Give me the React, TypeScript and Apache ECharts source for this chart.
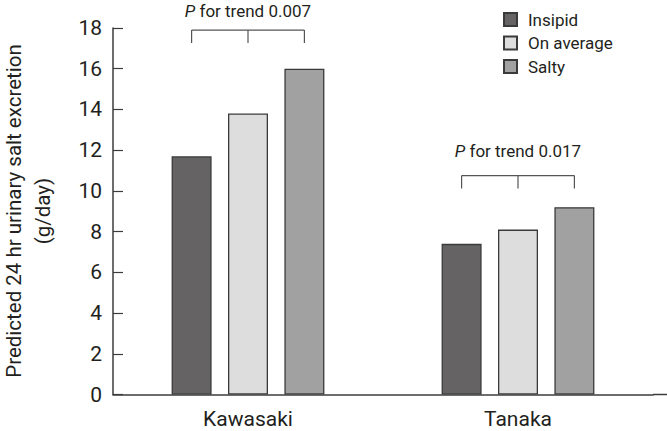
import React, { useEffect, useRef } from "react";
import * as echarts from "echarts";

const categories = ["Kawasaki", "Tanaka"];
const seriesNames = ["Insipid", "On average", "Salty"];
const insipid = [11.7, 7.4];
const onAverage = [13.8, 8.1];
const salty = [16.0, 9.2];
const yTicks = { min: 0, max: 18, interval: 2 };
const yTitleLines = ["Predicted 24 hr urinary salt excretion", "(g/day)"];
const trendLabels = ["0.007", "0.017"];
const trendLineLevels = [17.9, 10.75];
const trendTextLevels = [18.85, 11.97];

const colors = ["#656363", "#dcdddc", "#a0a1a0"];
const FONT = "Roboto, 'Liberation Sans', sans-serif";
const TEXT = "#231f20";
const BAR_WIDTH = 40;
const BAR_GAP = 0.41;

export default function App() {
  const ref = useRef<HTMLDivElement>(null);
  useEffect(() => {
    const chart = echarts.init(ref.current!, undefined, { renderer: "svg" });
    const values = [insipid, onAverage, salty];
    const offset = BAR_WIDTH * (1 + BAR_GAP);
    const bracketData = categories.map((_, i) => [i, trendLineLevels[i], trendTextLevels[i], i]);
    chart.setOption({
      animation: false,
      backgroundColor: "#ffffff",
      textStyle: { fontFamily: FONT, color: TEXT },
      grid: {
        left: 113,
        top: 28,
        width: 540,
        bottom: 36.5,
        containLabel: false,
        outerBoundsMode: "none",
      },
      legend: {
        data: seriesNames,
        orient: "vertical",
        left: 498,
        top: 6,
        icon: "rect",
        itemWidth: 13,
        itemHeight: 13,
        itemGap: 6.5,
        textStyle: { fontSize: 17, color: TEXT, fontFamily: FONT, padding: [0, 0, 0, 6] },
      },
      xAxis: {
        type: "category",
        data: categories,
        axisLine: { lineStyle: { color: "#3c3c3c", width: 1.5 } },
        axisTick: { show: false },
        axisLabel: { fontSize: 21, color: TEXT, margin: 14, fontFamily: FONT },
      },
      yAxis: {
        type: "value",
        min: yTicks.min,
        max: yTicks.max,
        interval: yTicks.interval,
        axisLine: { show: true, lineStyle: { color: "#3c3c3c", width: 1.5 } },
        axisTick: { show: true, inside: true, length: 10, lineStyle: { color: "#3c3c3c", width: 1.2 } },
        axisLabel: { fontSize: 21, color: TEXT, margin: 11, fontFamily: FONT },
        splitLine: { show: false },
      },
      series: [
        ...seriesNames.map((name, k) => ({
          name,
          type: "bar",
          data: values[k],
          barWidth: BAR_WIDTH,
          barGap: `${BAR_GAP * 100}%`,
          itemStyle: { color: colors[k], borderColor: "#3a3a3a", borderWidth: 1.3 },
        })),
        {
          type: "custom",
          name: "trend",
          clip: false,
          silent: true,
          data: bracketData,
          renderItem: (params: any, api: any) => {
            const cat = api.value(0);
            const lineY = api.coord([cat, api.value(1)]);
            const textY = api.coord([cat, api.value(2)]);
            const idx = api.value(3);
            const cx = lineY[0];
            const y = lineY[1];
            const drop = 13;
            const ls = { stroke: "#555555", lineWidth: 1.2 };
            return {
              type: "group",
              children: [
                { type: "line", shape: { x1: cx - offset, y1: y, x2: cx + offset, y2: y }, style: ls },
                { type: "line", shape: { x1: cx - offset, y1: y, x2: cx - offset, y2: y + drop }, style: ls },
                { type: "line", shape: { x1: cx, y1: y, x2: cx, y2: y + drop }, style: ls },
                { type: "line", shape: { x1: cx + offset, y1: y, x2: cx + offset, y2: y + drop }, style: ls },
                {
                  type: "text",
                  style: {
                    text: `{i|P} for trend ${trendLabels[idx]}`,
                    x: cx,
                    y: textY[1],
                    align: "center",
                    verticalAlign: "middle",
                    fontSize: 17,
                    fontFamily: FONT,
                    fill: TEXT,
                    rich: {
                      i: { fontStyle: "italic", fontSize: 17, fontFamily: FONT, fill: TEXT, color: TEXT },
                    },
                  },
                },
              ],
            };
          },
        },
      ],
      graphic: [
        {
          type: "line",
          shape: { x1: 653, y1: 394.5, x2: 667, y2: 394.5 },
          style: { stroke: "#3c3c3c", lineWidth: 1.5 },
        },
        ...yTitleLines.map((t, i) => ({
          type: "text",
          x: 14 + i * 29,
          y: 211,
          rotation: Math.PI / 2,
          style: {
            text: t,
            align: "center",
            verticalAlign: "middle",
            fontSize: 20.5,
            fontFamily: FONT,
            fill: TEXT,
          },
        })),
      ],
    });
    return () => chart.dispose();
  }, []);
  return (
    <div
      ref={ref}
      style={{ position: "fixed", left: 0, top: 0, width: 667, height: 431, background: "#fff" }}
    />
  );
}
